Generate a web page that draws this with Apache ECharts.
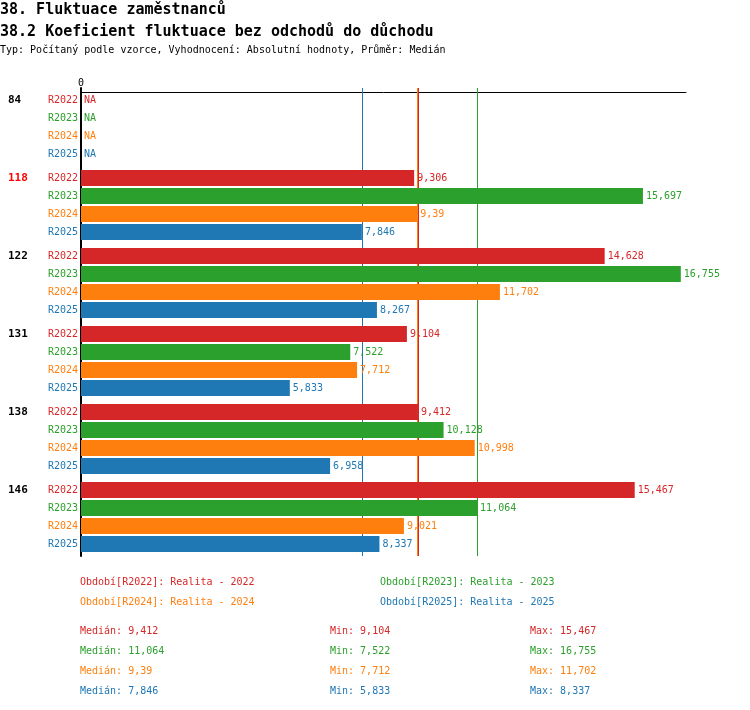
<!DOCTYPE html>
<html>
<head>
<meta charset="utf-8">
<script src="https://cdn.jsdelivr.net/npm/echarts@6/dist/echarts.min.js"></script>
<style>
  html, body { margin: 0; padding: 0; background: #fff; }
  #chart { width: 750px; height: 710px; }
</style>
</head>
<body>
<div id="chart"></div>
<script>
// skupiny (organizace) a obdobi
var groups = ['84', '118', '122', '131', '138', '146'];
var highlightGroup = '118';
var periods = ['R2022', 'R2023', 'R2024', 'R2025'];
var periodNames = ['Realita - 2022', 'Realita - 2023', 'Realita - 2024', 'Realita - 2025'];
var colors = ['#d62728', '#2ca02c', '#ff7f0e', '#1f77b4'];

// hodnoty, null = NA
var r2022 = [null, 9.306, 14.628, 9.104, 9.412, 15.467];
var r2023 = [null, 15.697, 16.755, 7.522, 10.128, 11.064];
var r2024 = [null, 9.39, 11.702, 7.712, 10.998, 9.021];
var r2025 = [null, 7.846, 8.267, 5.833, 6.958, 8.337];
var values = [r2022, r2023, r2024, r2025];

var FONT = 'DejaVu Sans Mono';

function fmt(v) {
  return String(v).replace('.', ',');
}

function stats(arr) {
  var vals = arr.filter(function (v) { return v != null; }).sort(function (a, b) { return a - b; });
  var n = vals.length;
  var med = n % 2 ? vals[(n - 1) / 2] : (vals[n / 2 - 1] + vals[n / 2]) / 2;
  return { median: med, min: vals[0], max: vals[n - 1] };
}

var chart = echarts.init(document.getElementById('chart'));

// popisky osy y: cislo skupiny + obdobi pod sebou
var rich = {
  g: { width: 40, align: 'left', fontFamily: FONT, fontSize: 11, fontWeight: 'bold', color: '#000', lineHeight: 18 },
  gh: { width: 40, align: 'left', fontFamily: FONT, fontSize: 11, fontWeight: 'bold', color: '#ff0000', lineHeight: 18 },
  e: { width: 40, lineHeight: 18 }
};
periods.forEach(function (p, i) {
  rich['s' + i] = { fontFamily: FONT, fontSize: 10, color: colors[i], lineHeight: 18 };
});

var series = [];
// medianove cary (pod sloupci)
periods.forEach(function (p, i) {
  series.push({
    name: p,
    type: 'line',
    data: [],
    z: 1,
    markLine: {
      z: 1,
      silent: true,
      symbol: 'none',
      label: { show: false },
      lineStyle: { color: colors[i], width: 1, type: 'solid' },
      data: [{ xAxis: stats(values[i]).median }]
    }
  });
});
periods.forEach(function (p, i) {
  series.push({
    name: p,
    type: 'bar',
    z: 3,
    barWidth: 16,
    barGap: '12.5%',
    itemStyle: { color: colors[i] },
    data: values[i].map(function (v) {
      return v == null ? { value: 0, na: true } : v;
    }),
    label: {
      show: true,
      position: 'right',
      distance: 3,
      fontFamily: FONT,
      fontSize: 10,
      color: colors[i],
      formatter: function (params) {
        return params.data && params.data.na ? 'NA' : fmt(params.value);
      }
    }
  });
});

var legends = periods.map(function (p, i) {
  return {
    data: [p],
    left: i % 2 ? 370 : 70,
    top: i < 2 ? 570 : 590,
    icon: 'none',
    itemWidth: 0,
    selectedMode: false,
    textStyle: { fontFamily: FONT, fontSize: 10, color: colors[i] },
    formatter: function (name) {
      return 'Období[' + name + ']: ' + periodNames[periods.indexOf(name)];
    }
  };
});

var graphics = [];
periods.forEach(function (p, i) {
  var st = stats(values[i]);
  var y = 631 + i * 20;
  [['Medián: ' + fmt(st.median), 80], ['Min: ' + fmt(st.min), 330], ['Max: ' + fmt(st.max), 530]].forEach(function (t) {
    graphics.push({
      type: 'text',
      left: t[1],
      top: y - 5,
      style: { text: t[0], fontFamily: FONT, fontSize: 10, fill: colors[i] }
    });
  });
});

chart.setOption({
  animation: false,
  title: [
    { text: '38. Fluktuace zaměstnanců', left: 0, top: 3, padding: 0,
      textStyle: { fontFamily: FONT, fontSize: 15, fontWeight: 'bold', color: '#000' } },
    { text: '38.2 Koeficient fluktuace bez odchodů do důchodu', left: 0, top: 25, padding: 0,
      textStyle: { fontFamily: FONT, fontSize: 15, fontWeight: 'bold', color: '#000' } },
    { text: 'Typ: Počítaný podle vzorce, Vyhodnocení: Absolutní hodnoty, Průměr: Medián', left: 0, top: 45, padding: 0,
      textStyle: { fontFamily: FONT, fontSize: 10, fontWeight: 'normal', color: '#000' } }
  ],
  legend: legends,
  grid: { left: 81, right: 64, top: 88, bottom: 154 },
  xAxis: {
    type: 'value',
    position: 'top',
    offset: -4,
    min: 0,
    max: 16.9,
    interval: 20,
    axisLine: { show: true, lineStyle: { color: '#000', width: 1 } },
    axisTick: { show: false },
    splitLine: { show: false },
    axisLabel: { fontFamily: FONT, fontSize: 10, color: '#000', margin: 4, showMaxLabel: false }
  },
  yAxis: {
    type: 'category',
    inverse: true,
    data: groups,
    axisLine: { show: true, lineStyle: { color: '#000', width: 2 } },
    axisTick: { show: false },
    axisLabel: {
      margin: 3,
      rich: rich,
      formatter: function (value) {
        var key = value === highlightGroup ? 'gh' : 'g';
        return periods.map(function (p, i) {
          return (i === 0 ? '{' + key + '|' + value + '}' : '{e|}') + '{s' + i + '|' + p + '}';
        }).join('\n');
      }
    }
  },
  series: series,
  graphic: graphics
});
</script>
</body>
</html>
